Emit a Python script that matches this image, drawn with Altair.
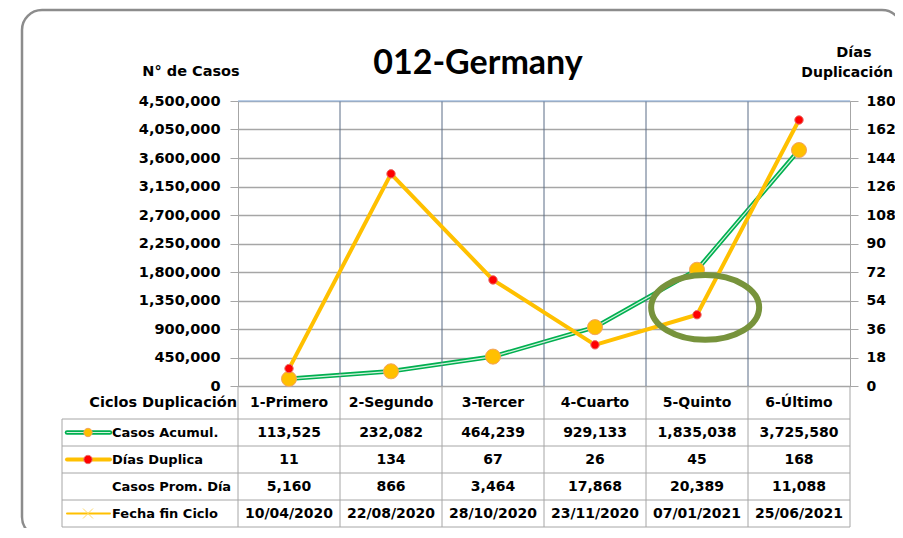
import altair as alt
import pandas as pd

# ---------------- data ----------------
categories = ["1-Primero", "2-Segundo", "3-Tercer", "4-Cuarto", "5-Quinto", "6-Último"]
casos = [113525, 232082, 464239, 929133, 1835038, 3725580]
dias = [11, 134, 67, 26, 45, 168]
prom = [5160, 866, 3464, 17868, 20389, 11088]
fechas = ["10/04/2020", "22/08/2020", "28/10/2020", "23/11/2020", "07/01/2021", "25/06/2021"]
row_labels = ["Casos Acumul.", "Días Duplica", "Casos Prom. Día", "Fecha fin Ciclo"]
header_label = "Ciclos Duplicación"
left_ticks = [0, 450000, 900000, 1350000, 1800000, 2250000, 2700000, 3150000, 3600000, 4050000, 4500000]
right_ticks = [0, 18, 36, 54, 72, 90, 108, 126, 144, 162, 180]
title_text = "012-Germany"
left_axis_title = "N° de Casos"
right_axis_title = ["Días", "Duplicación"]
highlight_cx = [4.58]
highlight_casos = [1240000]

n = len(categories)
W, H = 612, 285
FONT = "DejaVu Sans"

series = pd.DataFrame({"cx": [i + 0.5 for i in range(n)], "casos": casos, "dias": dias})

cells = []
for i, c in enumerate(categories):
    cells.append({"cx": i + 0.5, "row": 0, "text": c})
    cells.append({"cx": i + 0.5, "row": 1, "text": f"{casos[i]:,}"})
    cells.append({"cx": i + 0.5, "row": 2, "text": str(dias[i])})
    cells.append({"cx": i + 0.5, "row": 3, "text": f"{prom[i]:,}"})
    cells.append({"cx": i + 0.5, "row": 4, "text": fechas[i]})
cells = pd.DataFrame(cells)
labels_df = pd.DataFrame({"row": [1, 2, 3, 4], "text": row_labels})
header_df = pd.DataFrame({"row": [0], "text": [header_label]})
inner_bounds = pd.DataFrame({"bx": list(range(1, n))})
all_bounds = pd.DataFrame({"bx": list(range(0, n + 1)), "y0": -0.5, "y1": 4.5})
row_bounds = pd.DataFrame({"rb": [0.5, 1.5, 2.5, 3.5, 4.5]})
one = pd.DataFrame({"k": [0]})
hl = pd.DataFrame({"cx": highlight_cx, "casos": highlight_casos})

X_SCALE = alt.Scale(domain=[0, n], nice=False, zero=False)
YL = alt.Scale(domain=[0, 4500000], nice=False, zero=False)
YR = alt.Scale(domain=[0, 180], nice=False, zero=False)
ROW = alt.Scale(domain=[-0.5, 0.5, 4.5], range=[285, 318, 426], nice=False, zero=False)

def X(field="cx"):
    return alt.X(f"{field}:Q", scale=X_SCALE, axis=None)

def YRow(field="row"):
    return alt.Y(f"{field}:Q", scale=ROW, axis=None)

left_axis = alt.Axis(values=left_ticks, format=",d", orient="left", title=None,
                     labelFont=FONT, labelFontWeight="bold", labelFontSize=14.5, labelColor="black",
                     labelPadding=10, tickSize=8, tickColor="#A6A6A6", domainColor="#A6A6A6",
                     grid=True, gridColor="#A6A6A6", gridWidth=1.5)
right_axis = alt.Axis(values=right_ticks, format="d", orient="right", title=None,
                      labelFont=FONT, labelFontWeight="bold", labelFontSize=14, labelColor="black",
                      labelPadding=8, tickSize=8, tickColor="#A6A6A6", domainColor="#A6A6A6",
                      grid=False)

frame = alt.Chart(one).mark_rect(cornerRadius=20, fillOpacity=0, stroke="#8C8C8C", strokeWidth=2.5).encode(
    x=alt.value(-216), x2=alt.value(664), y=alt.value(-91), y2=alt.value(436))

# lines in plot
green = alt.Chart(series).mark_line(color="#00B050", strokeWidth=4.5).encode(
    x=X(), y=alt.Y("casos:Q", scale=YL, axis=left_axis))
vlines = alt.Chart(inner_bounds).mark_rule(color="#5B6C86", strokeWidth=1).encode(
    x=X("bx"), y=alt.value(0), y2=alt.value(H))
topline = alt.Chart(one).mark_rule(color="#8EB4E3", strokeWidth=1.2).encode(
    x=alt.value(0), x2=alt.value(W), y=alt.value(0))
tvlines = alt.Chart(all_bounds).mark_rule(color="#A6A6A6", strokeWidth=1).encode(
    x=X("bx"), y=YRow("y0"), y2="y1:Q")
tleft = alt.Chart(pd.DataFrame({"y0": [0.5], "y1": [4.5]})).mark_rule(color="#A6A6A6", strokeWidth=1).encode(
    x=alt.value(-176), y=YRow("y0"), y2="y1:Q")
thlines = alt.Chart(row_bounds).mark_rule(color="#A6A6A6", strokeWidth=1).encode(
    x=alt.value(-176), x2=alt.value(W), y=YRow("rb"))

green_in = alt.Chart(series).mark_line(color="#D4F2DF", strokeWidth=1.2).encode(
    x=X(), y=alt.Y("casos:Q", scale=YL, axis=None))
yellow = alt.Chart(series).mark_line(color="#FFC000", strokeWidth=4).encode(
    x=X(), y=alt.Y("dias:Q", scale=YR, axis=right_axis))
orange_pts = alt.Chart(series).mark_point(shape="circle", filled=True, fill="#FFC000", stroke="#F4A460",
                                          strokeWidth=1, size=227, opacity=1).encode(
    x=X(), y=alt.Y("casos:Q", scale=YL, axis=None))
red_pts = alt.Chart(series).mark_point(shape="circle", filled=True, fill="#FF0000", stroke="#E8706A",
                                       strokeWidth=1, size=71, opacity=1).encode(
    x=X(), y=alt.Y("dias:Q", scale=YR, axis=None))
ellipse = alt.Chart(hl).mark_point(shape="M-1,0A1,0.6,0,1,1,1,0A1,0.6,0,1,1,-1,0Z", filled=False,
                                   stroke="#77933C", strokeWidth=6, size=11664, opacity=1).encode(
    x=X(), y=alt.Y("casos:Q", scale=YL, axis=None))

# texts
title = alt.Chart(one).mark_text(text=title_text, font="Lato", fontWeight="bold", fontSize=34,
                                 align="center", baseline="alphabetic", color="black").encode(
    x=alt.value(240), y=alt.value(-27))
ltitle = alt.Chart(one).mark_text(text=left_axis_title, font=FONT, fontWeight="bold", fontSize=14.5,
                                  align="center", baseline="alphabetic", color="black").encode(
    x=alt.value(-47), y=alt.value(-25))
rtitle1 = alt.Chart(one).mark_text(text=right_axis_title[0], font=FONT, fontWeight="bold", fontSize=14.5,
                                   align="center", baseline="alphabetic", color="black").encode(
    x=alt.value(616), y=alt.value(-44))
rtitle2 = alt.Chart(one).mark_text(text=right_axis_title[1], font=FONT, fontWeight="bold", fontSize=14,
                                   align="right", baseline="alphabetic", color="black").encode(
    x=alt.value(655), y=alt.value(-24))
cell_txt = alt.Chart(cells).mark_text(font=FONT, fontWeight="bold", fontSize=14, align="center",
                                      baseline="middle", color="black").encode(
    x=X(), y=YRow(), text="text:N")
lab_txt = alt.Chart(labels_df).mark_text(font=FONT, fontWeight="bold", fontSize=13, align="left",
                                         baseline="middle", color="black").encode(
    x=alt.value(-126), y=YRow(), text="text:N")
head_txt = alt.Chart(header_df).mark_text(font=FONT, fontWeight="bold", fontSize=14.5, align="right",
                                          baseline="middle", color="black").encode(
    x=alt.value(-1), y=YRow(), text="text:N")

# legend keys in the table
def key_line(row, color, width):
    return alt.Chart(pd.DataFrame({"row": [row]})).mark_rule(color=color, strokeWidth=width, strokeCap="round").encode(
        x=alt.value(-171), x2=alt.value(-128), y=YRow())

def key_pt(row, shape, fill, stroke, size, filled=True, sw=1):
    return alt.Chart(pd.DataFrame({"row": [row]})).mark_point(shape=shape, filled=filled, fill=fill, stroke=stroke,
                                                              strokeWidth=sw, size=size, opacity=1).encode(
        x=alt.value(-150), y=YRow())

keys = [
    key_line(1, "#00B050", 4.5), key_line(1, "#D4F2DF", 1.2),
    key_pt(1, "circle", "#FFC000", "#F4A460", 70),
    key_line(2, "#FFC000", 4), key_pt(2, "circle", "#FF0000", "#E8706A", 70),
    key_line(4, "#FFC000", 2),
    key_pt(4, "M-1,-1L1,1M-1,1L1,-1", "#FFD966", "#FFD966", 100, filled=False, sw=1),
]

chart = alt.layer(
    frame, tvlines, tleft, thlines, green, vlines, topline, green_in, yellow,
    orange_pts, red_pts, ellipse, title, ltitle, rtitle1, rtitle2, cell_txt, lab_txt, head_txt, *keys
).resolve_scale(y="independent").properties(
    width=W, height=H,
    padding={"left": 230, "top": 93, "right": 45, "bottom": 142},
    autosize=alt.AutoSizeParams(type="none"),
).configure_view(stroke=None).configure(background="white")

chart.save("out.html", embed_options={"renderer": "svg", "actions": False})
